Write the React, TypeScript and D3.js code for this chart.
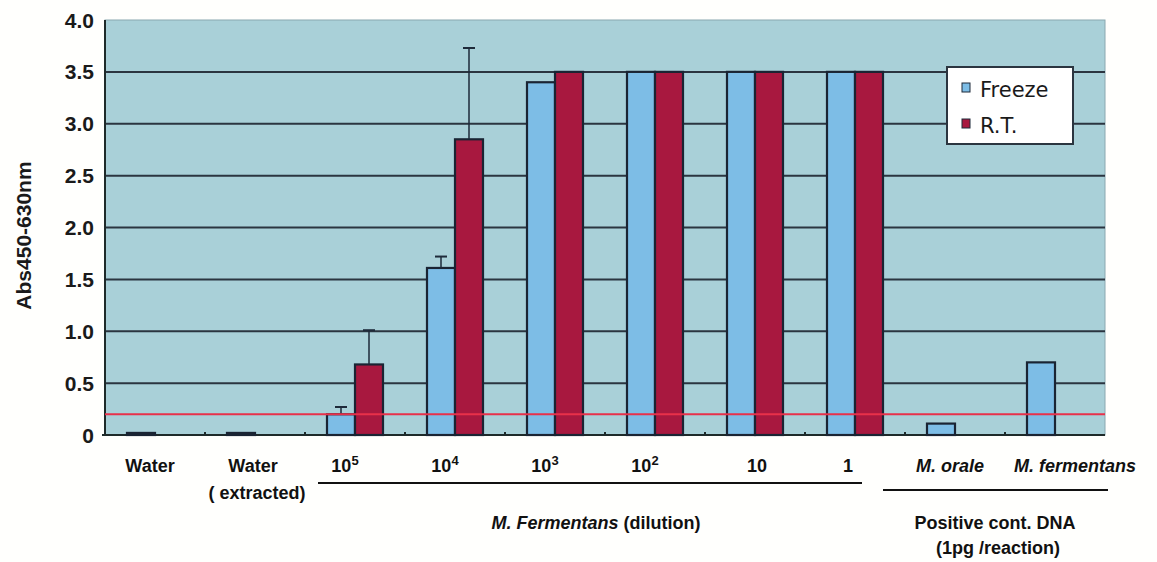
import React, { useEffect, useRef } from 'react';
import * as d3 from 'd3';

// categories along the x axis (label text handled separately)
const categories = ['water', 'waterExt', '1e5', '1e4', '1e3', '1e2', '10', '1', 'morale', 'mferm'];
const freezeValues = [0.02, 0.02, 0.2, 1.61, 3.4, 3.5, 3.5, 3.5, 0.11, 0.7];
const rtValues = [0, 0, 0.68, 2.85, 3.5, 3.5, 3.5, 3.5, 0, 0];
const freezeErr = [0, 0, 0.07, 0.11, 0, 0, 0, 0, 0, 0];
const rtErr = [0, 0, 0.33, 0.88, 0, 0, 0, 0, 0, 0];
const yTicks = [0, 0.5, 1.0, 1.5, 2.0, 2.5, 3.0, 3.5, 4.0];
const cutoff = 0.2;
const seriesNames = ['Freeze', 'R.T.'];

export default function App() {
    const ref = useRef<SVGSVGElement>(null);

    useEffect(() => {
        const W = 1157, H = 562;
        const margin = { top: 20, right: 52, bottom: 127, left: 105 };
        const width = W - margin.left - margin.right;
        const height = H - margin.top - margin.bottom;

        const svg = d3.select(ref.current);
        svg.selectAll('*').remove();
        svg.attr('width', W).attr('height', H);
        svg.append('rect').attr('width', W).attr('height', H).attr('fill', '#fffffd');

        const g = svg.append('g').attr('transform', `translate(${margin.left},${margin.top})`);

        const x = d3.scaleBand().domain(categories).range([0, width]).paddingInner(0).paddingOuter(0);
        const y = d3.scaleLinear().domain([0, 4]).range([height, 0]);
        const barW = x.bandwidth() * 0.28;

        g.append('rect').attr('width', width).attr('height', height)
            .attr('fill', '#a9d0d8').attr('stroke', '#8aa8b0').attr('stroke-width', 1);

        // grid lines
        g.selectAll('.grid').data(yTicks.filter(t => t > 0 && t < 4)).enter()
            .append('line').attr('class', 'grid')
            .attr('x1', 0).attr('x2', width)
            .attr('y1', d => y(d)).attr('y2', d => y(d))
            .attr('stroke', '#2b3540').attr('stroke-width', 2);

        // axes
        g.append('line').attr('x1', 0).attr('x2', 0).attr('y1', 0).attr('y2', height)
            .attr('stroke', '#1e2a2a').attr('stroke-width', 2);
        g.append('line').attr('x1', -3).attr('x2', width).attr('y1', height).attr('y2', height)
            .attr('stroke', '#1e2a2a').attr('stroke-width', 2);
        g.selectAll('.xtick').data(categories.slice(1)).enter().append('line')
            .attr('x1', d => x(d)!).attr('x2', d => x(d)!)
            .attr('y1', height - 3).attr('y2', height)
            .attr('stroke', '#1e2a2a').attr('stroke-width', 2);

        g.selectAll('.ylab').data(yTicks).enter().append('text')
            .attr('x', -11).attr('y', d => y(d)).attr('dy', '0.36em')
            .attr('text-anchor', 'end')
            .attr('font-family', 'Liberation Sans, Arial, sans-serif')
            .attr('font-weight', 'bold').attr('font-size', 21).attr('fill', '#1a1a1a')
            .text(d => d === 0 ? '0' : d.toFixed(1));

        svg.append('text')
            .attr('transform', `translate(31,${margin.top + height / 2 + 8}) rotate(-90)`)
            .attr('text-anchor', 'middle')
            .attr('font-family', 'Liberation Sans, Arial, sans-serif')
            .attr('font-weight', 'bold').attr('font-size', 21).attr('fill', '#1a1a1a')
            .text('Abs450-630nm');

        const series = [
            { values: freezeValues, err: freezeErr, color: '#7dbde6', off: -barW },
            { values: rtValues, err: rtErr, color: '#a8183f', off: 0 },
        ];

        series.forEach(s => {
            const xc = (i: number) => x(categories[i])! + x.bandwidth() / 2 + s.off;
            const idx = s.values.map((v, i) => i).filter(i => s.values[i] > 0);
            g.selectAll(null).data(idx).enter().append('rect')
                .attr('x', i => xc(i))
                .attr('y', i => y(s.values[i]))
                .attr('width', barW)
                .attr('height', i => height - y(s.values[i]))
                .attr('fill', s.color)
                .attr('stroke', '#1a2433').attr('stroke-width', 2.2);
            const eIdx = idx.filter(i => s.err[i] > 0);
            g.selectAll(null).data(eIdx).enter().append('line')
                .attr('x1', i => xc(i) + barW / 2).attr('x2', i => xc(i) + barW / 2)
                .attr('y1', i => y(s.values[i])).attr('y2', i => y(s.values[i] + s.err[i]))
                .attr('stroke', '#1e2a3a').attr('stroke-width', 1.5);
            g.selectAll(null).data(eIdx).enter().append('line')
                .attr('x1', i => xc(i) + barW / 2 - 6).attr('x2', i => xc(i) + barW / 2 + 6)
                .attr('y1', i => y(s.values[i] + s.err[i])).attr('y2', i => y(s.values[i] + s.err[i]))
                .attr('stroke', '#1e2a3a').attr('stroke-width', 2);
        });

        // cutoff line
        g.append('line').attr('x1', 0).attr('x2', width)
            .attr('y1', y(cutoff)).attr('y2', y(cutoff))
            .attr('stroke', '#e8304a').attr('stroke-width', 2);

        // legend
        const lg = g.append('g').attr('transform', `translate(${947 - margin.left},${67 - margin.top})`);
        lg.append('rect').attr('width', 126).attr('height', 77)
            .attr('fill', '#ffffff').attr('stroke', '#2b3540').attr('stroke-width', 2);
        series.forEach((s, i) => {
            lg.append('rect').attr('x', 15).attr('y', 16 + i * 36).attr('width', 8).attr('height', 9)
                .attr('fill', s.color).attr('stroke', '#1e2a3a').attr('stroke-width', 1);
            lg.append('text').attr('x', 33).attr('y', 30 + i * 36)
                .attr('font-family', 'DejaVu Sans, sans-serif').attr('font-size', 21)
                .attr('fill', '#1a1a1a').text(seriesNames[i]);
        });

        // x labels
        const font = 'Liberation Sans Narrow, Liberation Sans, Arial, sans-serif';
        const lbl = svg.append('g').attr('font-family', font).attr('font-weight', 'bold')
            .attr('font-size', 18).attr('fill', '#111').attr('text-anchor', 'middle');
        const cx = (c: string) => margin.left + x(c)! + x.bandwidth() / 2;
        const row1 = 472;
        lbl.append('text').attr('x', cx('water') - 5).attr('y', row1).text('Water');
        lbl.append('text').attr('x', cx('waterExt') - 2).attr('y', row1).text('Water');
        lbl.append('text').attr('x', cx('waterExt') + 2).attr('y', 499).text('( extracted)');
        const pow = [['1e5', '5'], ['1e4', '4'], ['1e3', '3'], ['1e2', '2']];
        pow.forEach(([c, p]) => {
            const t = lbl.append('text').attr('x', cx(c) - 10).attr('y', row1);
            t.append('tspan').text('10');
            t.append('tspan').attr('dy', -7).attr('font-size', 13).text(p);
        });
        lbl.append('text').attr('x', cx('10') + 2).attr('y', row1).text('10');
        lbl.append('text').attr('x', cx('1') - 7).attr('y', row1).text('1');
        lbl.append('text').attr('x', cx('morale') - 5).attr('y', row1).attr('font-style', 'italic').text('M. orale');
        lbl.append('text').attr('x', cx('mferm') + 20).attr('y', row1).attr('font-style', 'italic').text('M. fermentans');

        svg.append('line').attr('x1', 318).attr('x2', 862).attr('y1', 483).attr('y2', 483)
            .attr('stroke', '#111').attr('stroke-width', 2);
        svg.append('line').attr('x1', 883).attr('x2', 1108).attr('y1', 490).attr('y2', 490)
            .attr('stroke', '#111').attr('stroke-width', 2);

        const t2 = lbl.append('text').attr('x', 596).attr('y', 529);
        t2.append('tspan').attr('font-style', 'italic').text('M. Fermentans');
        t2.append('tspan').text('  (dilution)');
        lbl.append('text').attr('x', 995).attr('y', 529).text('Positive cont. DNA');
        lbl.append('text').attr('x', 998).attr('y', 554).text('(1pg /reaction)');
    }, []);

    return <svg ref={ref} style={{ display: 'block', position: 'absolute', left: 0, top: 0 }} />;
}
